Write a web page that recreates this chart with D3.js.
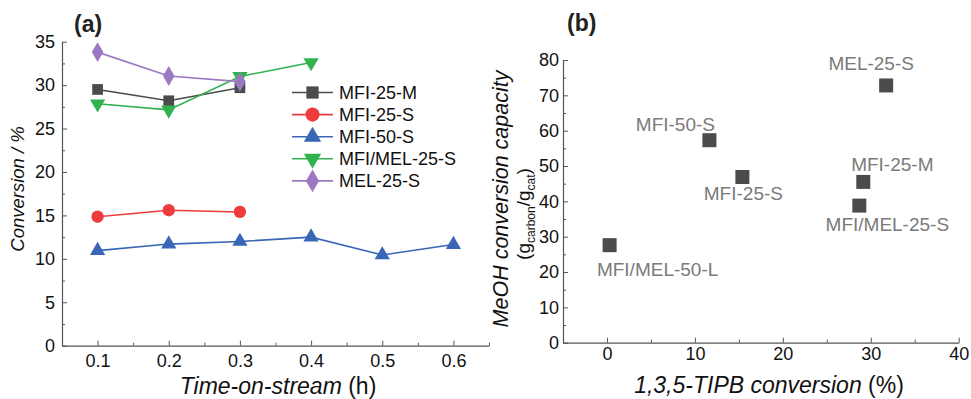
<!DOCTYPE html>
<html>
<head>
<meta charset="utf-8">
<script src="https://cdn.jsdelivr.net/npm/d3@7"></script>
<style>
  html, body { margin: 0; padding: 0; background: #fff; }
  svg { display: block; font-family: "Liberation Sans", Arial, sans-serif; }
</style>
</head>
<body>
<svg id="chart" width="971" height="399"></svg>
<script>
// Panel (a): conversion vs time-on-stream
const times = [0.1, 0.2, 0.3, 0.4, 0.5, 0.6];
const seriesNames = ["MFI-25-M", "MFI-25-S", "MFI-50-S", "MFI/MEL-25-S", "MEL-25-S"];
const mfi25m = [29.5, 28.2, 29.7];
const mfi25s = [14.85, 15.6, 15.4];
const mfi50s = [10.95, 11.7, 12.0, 12.5, 10.45, 11.65];
const mfimel25s = [27.85, 27.15, 31.0, 32.6];
const mel25s = [33.8, 31.05, 30.4];
const seriesColors = ["#4b4b4b", "#ee3b3b", "#3966b6", "#2fb24f", "#9b79c1"];
const seriesShapes = ["square", "circle", "triangle", "triangleDown", "diamond"];
const yTicksA = [0, 5, 10, 15, 20, 25, 30, 35];

// Panel (b): methanol conversion capacity vs TIPB conversion
const catalysts = ["MEL-25-S", "MFI-50-S", "MFI-25-S", "MFI-25-M", "MFI/MEL-25-S", "MFI/MEL-50-L"];
const tipbConversion = [31.75, 11.65, 15.4, 29.15, 28.7, 0.3];
const meohCapacity = [72.8, 57.3, 46.9, 45.5, 38.8, 27.6];
const xTicksB = [0, 10, 20, 30, 40];
const yTicksB = [0, 10, 20, 30, 40, 50, 60, 70, 80];

const svg = d3.select("#chart");
const axisColor = "#555";
const font = "\"Liberation Sans\", Arial, sans-serif";

function styleAxis(g) {
  g.select(".domain").attr("stroke", axisColor).attr("stroke-width", 1.2);
  g.selectAll(".tick line").attr("stroke", axisColor).attr("stroke-width", 1);
  g.selectAll(".tick text").attr("fill", "#111").attr("font-size", 18).attr("font-family", font);
}

const symbolTypes = {
  square: d3.symbolSquare,
  circle: d3.symbolCircle,
  triangle: d3.symbolTriangle,
  diamond: d3.symbolDiamond
};
function markerPath(shape, size) {
  if (shape === "triangleDown") return d3.symbol(d3.symbolTriangle, size)();
  return d3.symbol(symbolTypes[shape], size)();
}
const markerSizes = { square: 115, circle: 120, triangle: 100, triangleDown: 100, diamond: 115 };

// ---------- Panel (a) ----------
const xA = d3.scaleLinear().domain([0.05, 0.65]).range([62, 489]);
const yA = d3.scaleLinear().domain([0, 35]).range([345.7, 41.7]);

const gA = svg.append("g");
// minor ticks
gA.append("g").attr("transform", `translate(0,${yA(0)})`)
  .call(d3.axisBottom(xA).tickValues([0.15, 0.25, 0.35, 0.45, 0.55, 0.65]).tickSize(-3).tickFormat(""))
  .call(g => { g.select(".domain").remove(); g.selectAll("line").attr("stroke", axisColor); });
gA.append("g").attr("transform", `translate(${xA(0.05)},0)`)
  .call(d3.axisLeft(yA).tickValues(d3.range(2.5, 35, 5)).tickSize(-3).tickFormat(""))
  .call(g => { g.select(".domain").remove(); g.selectAll("line").attr("stroke", axisColor); });
// major axes
gA.append("g").attr("transform", `translate(0,${yA(0)})`)
  .call(d3.axisBottom(xA).tickValues(times).tickSize(-5).tickSizeOuter(0).tickPadding(9).tickFormat(d3.format(".1f")))
  .call(styleAxis);
gA.append("g").attr("transform", `translate(${xA(0.05)},0)`)
  .call(d3.axisLeft(yA).tickValues(yTicksA).tickSize(-5).tickSizeOuter(0).tickPadding(7))
  .call(styleAxis);

const seriesValues = [mfi25m, mfi25s, mfi50s, mfimel25s, mel25s];
const line = d3.line().x(d => xA(d[0])).y(d => yA(d[1]));
seriesValues.forEach((vals, i) => {
  const pts = vals.map((v, j) => [times[j], v]);
  gA.append("path").datum(pts).attr("d", line)
    .attr("fill", "none").attr("stroke", seriesColors[i]).attr("stroke-width", 1.6);
  gA.selectAll(null).data(pts).enter().append("path")
    .attr("d", markerPath(seriesShapes[i], markerSizes[seriesShapes[i]]))
    .attr("transform", d => `translate(${xA(d[0])},${yA(d[1])})${seriesShapes[i] === "triangleDown" ? " rotate(180)" : ""}`)
    .attr("fill", seriesColors[i]);
});

// legend
const legend = gA.append("g");
seriesNames.forEach((name, i) => {
  const y = 92.5 + i * 22.1;
  legend.append("line").attr("x1", 292).attr("x2", 333).attr("y1", y).attr("y2", y)
    .attr("stroke", seriesColors[i]).attr("stroke-width", 1.6);
  legend.append("path").attr("d", markerPath(seriesShapes[i], markerSizes[seriesShapes[i]] * 1.3))
    .attr("transform", `translate(312.5,${y})${seriesShapes[i] === "triangleDown" ? " rotate(180)" : ""}`)
    .attr("fill", seriesColors[i]);
  legend.append("text").attr("x", 339).attr("y", y).attr("dy", "0.36em")
    .attr("font-size", 18).attr("fill", "#111").text(name);
});

// titles
gA.append("text").attr("x", 74).attr("y", 32).attr("font-size", 23).attr("font-weight", "bold")
  .attr("fill", "#222").text("(a)");
gA.append("text").attr("transform", "translate(24,189) rotate(-90)").attr("text-anchor", "middle")
  .attr("font-size", 18.5).attr("font-style", "italic").attr("fill", "#111").text("Conversion / %");
const xlabA = gA.append("text").attr("x", 278).attr("y", 394).attr("text-anchor", "middle")
  .attr("font-size", 23).attr("fill", "#111");
xlabA.append("tspan").attr("font-style", "italic").text("Time-on-stream");
xlabA.append("tspan").text(" (h)");

// ---------- Panel (b) ----------
const xB = d3.scaleLinear().domain([-5, 40]).range([563, 958.7]);
const yB = d3.scaleLinear().domain([0, 80]).range([342.7, 60]);

const gB = svg.append("g");
gB.append("g").attr("transform", `translate(0,${yB(0)})`)
  .call(d3.axisBottom(xB).tickValues([5, 15, 25, 35]).tickSize(-3).tickFormat(""))
  .call(g => { g.select(".domain").remove(); g.selectAll("line").attr("stroke", axisColor); });
gB.append("g").attr("transform", `translate(${xB(-5)},0)`)
  .call(d3.axisLeft(yB).tickValues(d3.range(5, 80, 10)).tickSize(-3).tickFormat(""))
  .call(g => { g.select(".domain").remove(); g.selectAll("line").attr("stroke", axisColor); });
gB.append("g").attr("transform", `translate(0,${yB(0)})`)
  .call(d3.axisBottom(xB).tickValues(xTicksB).tickSize(-5).tickSizeOuter(0).tickPadding(5))
  .call(styleAxis);
gB.append("g").attr("transform", `translate(${xB(-5)},0)`)
  .call(d3.axisLeft(yB).tickValues(yTicksB).tickSize(-5).tickSizeOuter(0).tickPadding(4))
  .call(styleAxis);

// labels placed relative to each point (offsets in px)
const labelOffsets = [[-15, -22], [-34, -16], [1, 16], [29, -18], [28, 19], [48, 24]];
catalysts.forEach((name, i) => {
  const px = xB(tipbConversion[i]), py = yB(meohCapacity[i]);
  gB.append("rect").attr("x", px - 7).attr("y", py - 7).attr("width", 14).attr("height", 14)
    .attr("fill", "#4b4b4b");
  gB.append("text").attr("x", px + labelOffsets[i][0]).attr("y", py + labelOffsets[i][1])
    .attr("dy", "0.36em").attr("text-anchor", "middle").attr("font-size", 19)
    .attr("fill", "#7a7a7a").text(name);
});

gB.append("text").attr("x", 567).attr("y", 31).attr("font-size", 23).attr("font-weight", "bold")
  .attr("fill", "#222").text("(b)");
gB.append("text").attr("transform", "translate(508,199) rotate(-90)").attr("text-anchor", "middle")
  .attr("font-size", 21.5).attr("font-style", "italic").attr("fill", "#111").text("MeOH conversion capacity");
const ylabB2 = gB.append("text").attr("transform", "translate(530,214) rotate(-90)").attr("text-anchor", "middle")
  .attr("font-size", 19).attr("fill", "#111");
ylabB2.append("tspan").text("(g");
ylabB2.append("tspan").attr("font-size", 12).attr("dy", 5).text("carbon");
ylabB2.append("tspan").attr("dy", -5).text("/g");
ylabB2.append("tspan").attr("font-size", 12).attr("dy", 5).text("cat");
ylabB2.append("tspan").attr("dy", -5).text(")");
const xlabB = gB.append("text").attr("x", 769).attr("y", 393).attr("text-anchor", "middle")
  .attr("font-size", 23).attr("fill", "#111");
xlabB.append("tspan").attr("font-style", "italic").text("1,3,5-TIPB conversion");
xlabB.append("tspan").text(" (%)");
</script>
</body>
</html>
